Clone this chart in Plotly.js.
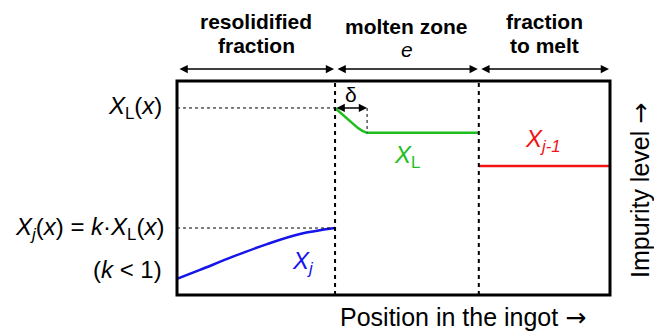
<!DOCTYPE html>
<html>
<head>
<meta charset="utf-8">
<script src="https://cdn.plot.ly/plotly-3.0.1.min.js"></script>
<style>html,body{margin:0;padding:0;background:#fff;}#chart{width:654px;height:333px;}</style>
</head>
<body>
<div id="chart"></div>
<script>
// Position along the ingot (0-100) and impurity level (0-100)
const zoneEdges = [0, 36.5, 69.7, 100];
const zoneTitles = [["resolidified", "fraction"], ["molten zone", "<i>e</i>"], ["fraction", "to melt"]];
const deltaEnd = 43.9;

const solidX = [0, 5.3, 12.9, 20.8, 28.4, 36.5];
const solidY = [7.5, 11.7, 17.9, 23.8, 28.5, 31.3];

const liquidX = [36.5, 37.4, 38.3, 39.2, 40.0, 40.9, 41.8, 42.8, 43.9, 69.7];
const liquidY = [87.4, 85.8, 84.3, 82.8, 81.3, 79.6, 78.0, 76.7, 75.8, 75.8];

const meltX = [69.7, 100];
const meltY = [60.3, 60.3];

const levelXL = 87.4;   // X_L(x)
const levelXj = 31.3;   // X_j(x) = k·X_L(x)
const levelK = 11.7;    // (k < 1) label row

const FONT = "Liberation Sans, Arial, sans-serif";
const ARROW = '<span style="font-family:DejaVu Sans">→</span>';
const BLUE = "rgb(20,20,235)", GREEN = "rgb(30,190,30)", RED = "rgb(240,20,20)";

const traces = [
  {x: solidX, y: solidY, mode: "lines", line: {color: BLUE, width: 2.5, shape: "spline"}, hoverinfo: "skip"},
  {x: liquidX, y: liquidY, mode: "lines", line: {color: GREEN, width: 2.5}, hoverinfo: "skip"},
  {x: meltX, y: meltY, mode: "lines", line: {color: RED, width: 2.5}, hoverinfo: "skip"}
];

const shapes = [
  {type: "rect", xref: "paper", yref: "paper", x0: 0, x1: 1, y0: 0, y1: 1, line: {color: "#000", width: 3}},
  {type: "line", xref: "x", yref: "paper", x0: zoneEdges[1], x1: zoneEdges[1], y0: 0, y1: 1, line: {color: "#000", width: 2, dash: "4px,4px"}},
  {type: "line", xref: "x", yref: "paper", x0: zoneEdges[2], x1: zoneEdges[2], y0: 0, y1: 1, line: {color: "#000", width: 2, dash: "4px,4px"}},
  {type: "line", xref: "x", yref: "y", x0: zoneEdges[0], x1: zoneEdges[1], y0: levelXL, y1: levelXL, line: {color: "#000", width: 1, dash: "dot"}},
  {type: "line", xref: "x", yref: "y", x0: zoneEdges[0], x1: zoneEdges[1], y0: levelXj, y1: levelXj, line: {color: "#000", width: 1, dash: "dot"}},
  {type: "line", xref: "x", yref: "y", x0: deltaEnd, x1: deltaEnd, y0: levelXL, y1: liquidY[liquidY.length - 1], line: {color: "#000", width: 1, dash: "dot"}}
];

const annotations = [];
const titleY = [[1.276, 1.168], [1.255, 1.145], [1.276, 1.168]];
for (let i = 0; i < 3; i++) {
  const cx = (zoneEdges[i] + zoneEdges[i + 1]) / 2;
  annotations.push({x: cx, xref: "x", y: titleY[i][0], yref: "paper", xanchor: "center", yanchor: "middle", text: "<b>" + zoneTitles[i][0] + "</b>", showarrow: false, font: {family: FONT, size: 21, color: "#000"}});
  annotations.push({x: cx, xref: "x", y: titleY[i][1], yref: "paper", xanchor: "center", yanchor: "middle", text: i === 1 ? zoneTitles[i][1] : "<b>" + zoneTitles[i][1] + "</b>", showarrow: false, font: {family: FONT, size: 21, color: "#000"}});
  annotations.push({x: zoneEdges[i + 1], xref: "x", ax: zoneEdges[i], axref: "x", y: 1.056, yref: "paper", ay: 0, ayref: "pixel",
    text: "", showarrow: true, arrowside: "end+start", arrowhead: 2, arrowsize: 1.1, arrowwidth: 1.5, arrowcolor: "#000", standoff: 1, startstandoff: 1});
}

annotations.push({x: deltaEnd, y: levelXL, xref: "x", yref: "y", ax: zoneEdges[1], ay: levelXL, axref: "x", ayref: "y",
  text: "", showarrow: true, arrowside: "end+start", arrowhead: 2, arrowsize: 1.1, arrowwidth: 1.5, arrowcolor: "#000"});
annotations.push({x: 40.2, y: 93.5, xref: "x", yref: "y", xanchor: "center", yanchor: "middle", text: "δ", showarrow: false, font: {family: FONT, size: 21, color: "#000"}});

annotations.push({x: -0.03, xref: "paper", y: levelXL, yref: "y", xanchor: "right", yanchor: "middle", text: "<i>X</i><sub>L</sub>(<i>x</i>)", showarrow: false, font: {family: FONT, size: 24, color: "#000"}});
annotations.push({x: -0.025, xref: "paper", y: levelXj, yref: "y", xanchor: "right", yanchor: "middle", text: "<i>X<sub>j</sub></i>(<i>x</i>) = <i>k</i>·<i>X</i><sub>L</sub>(<i>x</i>)", showarrow: false, font: {family: FONT, size: 24, color: "#000"}});
annotations.push({x: -0.03, xref: "paper", y: levelK, yref: "y", xanchor: "right", yanchor: "middle", text: "(<i>k</i> &lt; 1)", showarrow: false, font: {family: FONT, size: 24, color: "#000"}});

annotations.push({x: 29.1, y: 15.4, xref: "x", yref: "y", xanchor: "center", yanchor: "middle", text: "<i>X<sub>j</sub></i>", showarrow: false, font: {family: FONT, size: 24, color: BLUE}});
annotations.push({x: 53.1, y: 64.5, xref: "x", yref: "y", xanchor: "center", yanchor: "middle", text: "<i>X</i><sub>L</sub>", showarrow: false, font: {family: FONT, size: 24, color: GREEN}});
annotations.push({x: 84.5, y: 72.4, xref: "x", yref: "y", xanchor: "center", yanchor: "middle", text: "<i>X<sub>j-1</sub></i>", showarrow: false, font: {family: FONT, size: 24, color: RED}});

annotations.push({x: 0.66, xref: "paper", y: -0.177, yref: "paper", xanchor: "center", yanchor: "bottom", borderpad: 0, text: "Position in the ingot " + ARROW, showarrow: false, font: {family: FONT, size: 25, color: "#000"}});
annotations.push({x: 1.069, xref: "paper", y: 0.49, yref: "paper", xanchor: "center", yanchor: "middle", text: "Impurity level " + ARROW, textangle: -90, showarrow: false, font: {family: FONT, size: 25, color: "#000"}});

const layout = {
  width: 654, height: 333,
  margin: {l: 177, r: 44, t: 81, b: 38},
  paper_bgcolor: "#fff", plot_bgcolor: "#fff",
  showlegend: false,
  xaxis: {range: [0, 100], visible: false, fixedrange: true},
  yaxis: {range: [0, 100], visible: false, fixedrange: true},
  shapes: shapes,
  annotations: annotations,
  font: {family: FONT}
};

Plotly.newPlot("chart", traces, layout, {staticPlot: true, displayModeBar: false});
</script>
</body>
</html>
